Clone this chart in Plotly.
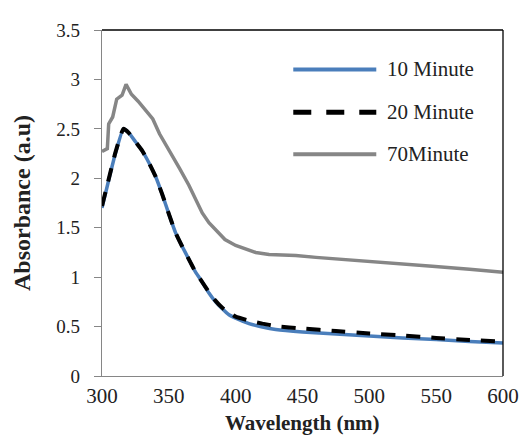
import plotly.graph_objects as go

# Wavelength (nm) and absorbance (a.u)
wl_10 = [300, 305, 310, 316, 320, 325, 330, 335, 340, 345, 350, 355, 360, 365, 370, 375, 380,
         385, 390, 395, 400, 410, 420, 430, 450, 475, 500, 525, 550, 575, 600]
abs_10 = [1.70, 1.98, 2.25, 2.50, 2.46, 2.37, 2.28, 2.16, 2.02, 1.84, 1.64, 1.45, 1.31, 1.18, 1.05, 0.95, 0.84,
          0.75, 0.68, 0.62, 0.585, 0.53, 0.495, 0.47, 0.445, 0.425, 0.405, 0.385, 0.37, 0.35, 0.335]

wl_20 = [300, 305, 310, 316, 320, 325, 330, 335, 340, 345, 350, 355, 360, 365, 370, 375, 380,
         385, 390, 395, 400, 410, 420, 430, 450, 475, 500, 525, 550, 575, 595]
abs_20 = [1.72, 1.99, 2.26, 2.50, 2.46, 2.37, 2.28, 2.16, 2.02, 1.84, 1.64, 1.45, 1.31, 1.18, 1.05, 0.95, 0.85,
          0.76, 0.69, 0.64, 0.60, 0.56, 0.53, 0.505, 0.48, 0.455, 0.43, 0.41, 0.385, 0.365, 0.35]

wl_70 = [300, 304, 305, 308, 311, 315, 318, 322, 327, 332, 338, 343, 347, 351, 358, 365, 370, 375,
         380, 386, 392, 400, 408, 415, 425, 445, 460, 475, 490, 510, 530, 547, 575, 600]
abs_70 = [2.27, 2.30, 2.55, 2.62, 2.80, 2.84, 2.95, 2.85, 2.78, 2.70, 2.60, 2.45, 2.36, 2.26, 2.10, 1.93, 1.78, 1.65,
          1.55, 1.46, 1.38, 1.32, 1.28, 1.25, 1.23, 1.22, 1.20, 1.185, 1.17, 1.155, 1.13, 1.11, 1.08, 1.05]

series_names = ["10 Minute", "20 Minute", "70Minute"]
x_ticks = [300, 350, 400, 450, 500, 550, 600]
x_title = "Wavelength (nm)"
y_title = "Absorbance (a.u)"

BLUE = "#4A7EBB"
GREY = "#868686"
SERIF = "Liberation Serif, Times New Roman, serif"

fig = go.Figure()
fig.add_trace(go.Scatter(x=wl_10, y=abs_10, mode="lines", name=series_names[0], line_shape="spline",
                         line=dict(color=BLUE, width=3.5, smoothing=0.4), showlegend=False))
fig.add_trace(go.Scatter(x=wl_20, y=abs_20, mode="lines", name=series_names[1], line_shape="spline",
                         line=dict(color="black", width=4, dash="14px,11px", smoothing=0.4), showlegend=False))
fig.add_trace(go.Scatter(x=wl_70, y=abs_70, mode="lines", name=series_names[2],
                         line=dict(color=GREY, width=3.5), showlegend=False))

# manual legend (paper coordinates)
leg_y = [0.886, 0.762, 0.641]
leg_styles = [dict(color=BLUE, width=4), dict(color="black", width=5, dash="18px,15px"), dict(color=GREY, width=4)]
shapes = []
annotations = []
for name, yy, st in zip(series_names, leg_y, leg_styles):
    shapes.append(dict(type="line", xref="paper", yref="paper", x0=0.477, x1=0.684, y0=yy, y1=yy, line=st))
    annotations.append(dict(xref="paper", yref="paper", x=0.705, y=yy, text=name, showarrow=False,
                            xanchor="left", yanchor="middle", font=dict(family=SERIF, size=21, color="#222")))

# x-axis title placed as annotation for precise vertical position
annotations.append(dict(xref="paper", yref="paper", x=0.5, y=-0.135, text="<b>" + x_title + "</b>",
                        showarrow=False, xanchor="center", yanchor="middle",
                        font=dict(family=SERIF, size=21, color="#222")))

# black top and right frame
shapes.append(dict(type="line", xref="paper", yref="paper", x0=0, x1=1, y0=1, y1=1, line=dict(color="black", width=1.3)))
shapes.append(dict(type="line", xref="paper", yref="paper", x0=1, x1=1, y0=0, y1=1, line=dict(color="black", width=1.3)))

# page body has an 8px margin, so the figure is 8px smaller and margins are shifted
fig.update_layout(
    width=523, height=431,
    margin=dict(l=94, r=18, t=13, b=63),
    paper_bgcolor="white", plot_bgcolor="white",
    shapes=shapes, annotations=annotations,
    xaxis=dict(range=[300, 600], tickvals=x_ticks, showgrid=False, zeroline=False,
               showline=True, linecolor=GREY, linewidth=1.3, ticks="",
               tickfont=dict(family=SERIF, size=21, color="#222"), ticklabelstandoff=1),
    yaxis=dict(range=[0, 3.5], dtick=0.5, showgrid=False, zeroline=False,
               showline=True, linecolor=GREY, linewidth=1.3, ticks="outside", ticklen=7, tickcolor=GREY,
               tickfont=dict(family=SERIF, size=19, color="#222"), ticklabelstandoff=10,
               title=dict(text="<b>" + y_title + "</b>", font=dict(family=SERIF, size=24, color="#222"), standoff=18)),
)

fig.write_html("out.html")
